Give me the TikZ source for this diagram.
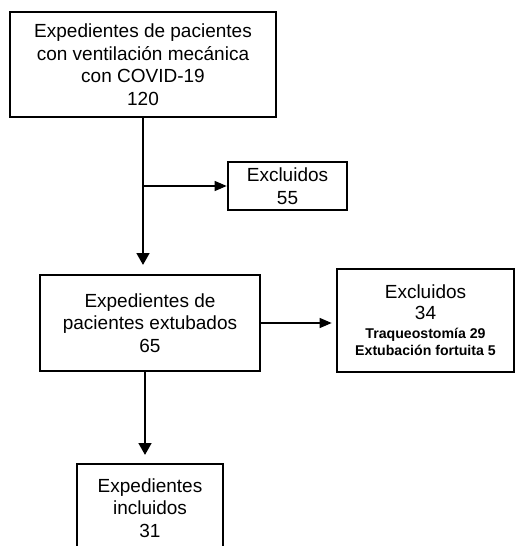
\documentclass[tikz,border=0pt]{standalone}
\usepackage{fontspec}
\setmainfont{Liberation Sans}
\usetikzlibrary{arrows.meta}
\tikzset{
  box/.style={draw=black, line width=2pt, rectangle, inner sep=0pt, align=center,
    font=\fontsize{14.25pt}{16.9pt}\selectfont},
  thickarr/.style={line width=2pt, -{Triangle[length=9pt,width=9.5pt]}},
  thinarr/.style={line width=0.9pt, -{Triangle[length=9pt,width=7.5pt]}},
}
\newcommand{\smalltxt}{\fontsize{10.6pt}{12pt}\selectfont\bfseries}
\begin{document}
\begin{tikzpicture}[x=0.75pt,y=-0.75pt]
\useasboundingbox (0,0) rectangle (516,546);
\fill[white] (0,0) rectangle (516,546);
% boxes (px coordinates, centre + size)
\node[box, minimum width=266*0.75pt, minimum height=105*0.75pt] (b1) at (143,64.5)
  {Expedientes de pacientes\\con ventilación mecánica\\con COVID-19\\120};
\node[box, minimum width=119*0.75pt, minimum height=48*0.75pt] (b2) at (287.5,186)
  {Excluidos\\55};
\node[box, minimum width=220*0.75pt, minimum height=96*0.75pt] (b3) at (150,323)
  {Expedientes de\\pacientes extubados\\65};
\node[box, minimum width=177*0.75pt, minimum height=103*0.75pt,
  font=\fontsize{14.25pt}{15.75pt}\selectfont] (b4) at (425.5,320.5)
  {Excluidos\\34\\[-1.4pt]{\smalltxt Traqueostomía 29}\\[-3pt]{\smalltxt Extubación fortuita 5}};
\node[box, minimum width=146*0.75pt, minimum height=88*0.75pt] (b5) at (150,508)
  {Expedientes\\incluidos\\31};
% connectors
\coordinate (t1) at (143,265);
\coordinate (t2) at (145,455);
\draw[thickarr] (b1.south) -- (t1);
\draw[thinarr] (b1.south |- b2.west) -- (b2.west);
\draw[thinarr, shorten >=3pt] (b3.east) -- (b4.west |- b3.east);
\draw[thickarr] (b3.south -| t2) -- (t2);
\end{tikzpicture}
\end{document}
